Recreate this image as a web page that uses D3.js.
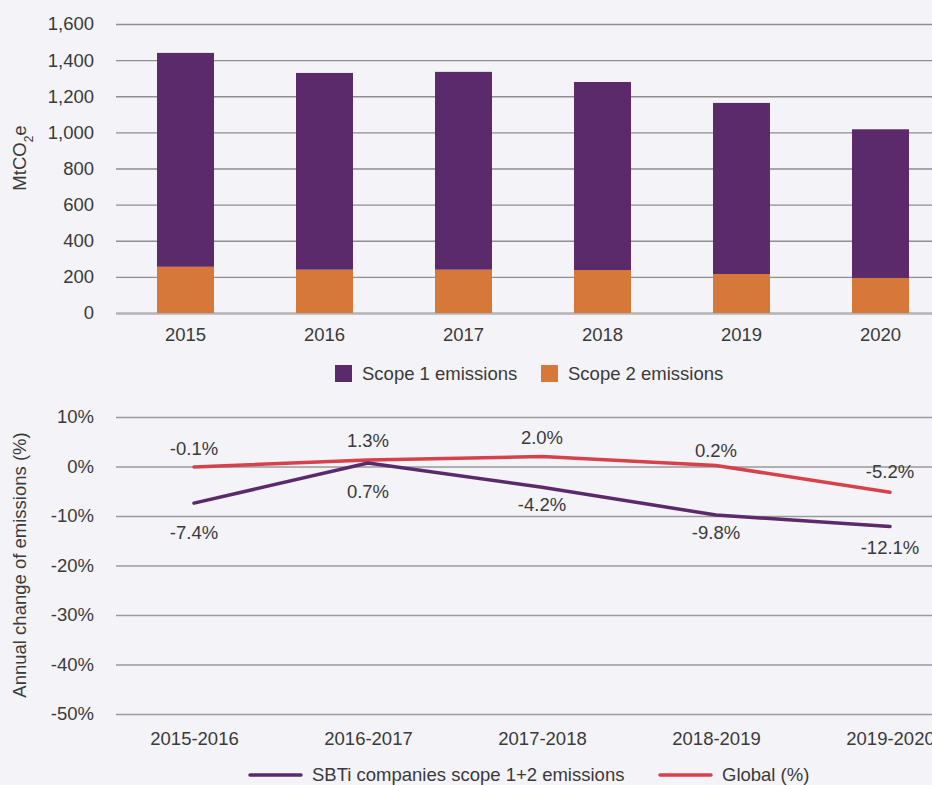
<!DOCTYPE html>
<html>
<head>
<meta charset="utf-8">
<script src="https://cdn.jsdelivr.net/npm/d3@7"></script>
<style>
  html, body { margin: 0; padding: 0; background: #f4f3f7; }
  svg { display: block; font-family: "Liberation Sans", Arial, sans-serif; }
  .tick text { fill: #3a3a3a; font-size: 18.5px; }
  .domain { display: none; }
</style>
</head>
<body>
<div id="chart"></div>
<script>
// Top chart data (MtCO2e)
const years = ["2015", "2016", "2017", "2018", "2019", "2020"];
const scope1 = [1184, 1089, 1095, 1041, 947, 823];
const scope2 = [256, 240, 240, 238, 216, 194];
const emissionTicks = [0, 200, 400, 600, 800, 1000, 1200, 1400, 1600];

// Bottom chart data (annual change, %)
const periods = ["2015-2016", "2016-2017", "2017-2018", "2018-2019", "2019-2020"];
const sbtiChange = [-7.4, 0.7, -4.2, -9.8, -12.1];
const globalChange = [-0.1, 1.3, 2.0, 0.2, -5.2];
const changeTicks = [10, 0, -10, -20, -30, -40, -50];

const purple = "#5b2a6a";
const orange = "#d5783a";
const red = "#d6414b";
const textColor = "#3a3a3a";

const svgWidth = 932, svgHeight = 785;
const svg = d3.select("#chart").append("svg")
    .attr("width", svgWidth)
    .attr("height", svgHeight);

// ---------- top: stacked bars ----------
const plotLeft = 116;
const xBar = d3.scaleBand().domain(years).range([plotLeft, 950])
    .paddingInner(0.59).paddingOuter(0.295);
const yBar = d3.scaleLinear().domain([0, 1600]).range([313, 24]);

const yAxisTop = svg.append("g")
    .attr("transform", `translate(${plotLeft},0)`)
    .call(d3.axisLeft(yBar).tickValues(emissionTicks).tickFormat(d3.format(","))
        .tickSize(-(svgWidth - plotLeft)).tickPadding(22));
yAxisTop.selectAll(".tick line")
    .attr("stroke", d => d === 0 ? "#b3b3b3" : "#8e8e8e")
    .attr("stroke-width", d => d === 0 ? 2.5 : 1.3);

const stackData = years.map((y, i) => ({ year: y, s2: scope2[i], s1: scope1[i] }));
const stack = d3.stack().keys(["s2", "s1"])(stackData);
const barColors = { s1: purple, s2: orange };

svg.append("g").selectAll("g")
    .data(stack)
    .join("g")
    .attr("fill", d => barColors[d.key])
    .selectAll("rect")
    .data(d => d)
    .join("rect")
    .attr("x", d => xBar(d.data.year))
    .attr("y", d => yBar(d[1]))
    .attr("width", xBar.bandwidth())
    .attr("height", d => yBar(d[0]) - yBar(d[1]));

svg.append("g")
    .attr("transform", "translate(0,313)")
    .call(d3.axisBottom(xBar).tickSize(0).tickPadding(14))
    .selectAll("text").attr("dy", "0.75em");

// y title with subscript
const t1 = svg.append("text")
    .attr("transform", "translate(26,158) rotate(-90)")
    .attr("text-anchor", "middle")
    .attr("fill", textColor)
    .style("font-size", "18.5px");
t1.append("tspan").text("MtCO");
t1.append("tspan").text("2").attr("baseline-shift", "sub").style("font-size", "12px");
t1.append("tspan").text("e");

// legend top
const legTop = [
    { label: "Scope 1 emissions", color: purple, x: 335 },
    { label: "Scope 2 emissions", color: orange, x: 541 }
];
const lt = svg.append("g").selectAll("g").data(legTop).join("g")
    .attr("transform", d => `translate(${d.x},365)`);
lt.append("rect").attr("width", 17).attr("height", 17).attr("fill", d => d.color);
lt.append("text").attr("x", 27).attr("y", 8.5).attr("dy", "0.35em")
    .attr("fill", textColor).style("font-size", "18.5px").text(d => d.label);

// ---------- bottom: lines ----------
const xLine = d3.scalePoint().domain(periods).range([194, 890]);
const yLine = d3.scaleLinear().domain([-50, 10]).range([714, 417]);

const yAxisBot = svg.append("g")
    .attr("transform", `translate(${plotLeft},0)`)
    .call(d3.axisLeft(yLine).tickValues(changeTicks).tickFormat(d => d + "%")
        .tickSize(-(svgWidth - plotLeft)).tickPadding(22));
yAxisBot.selectAll(".tick line").attr("stroke", "#9a9a9a").attr("stroke-width", 1.5);

svg.append("g")
    .attr("transform", "translate(0,714)")
    .call(d3.axisBottom(xLine).tickSize(0).tickPadding(17))
    .selectAll("text").attr("dy", "0.75em");

const line = d3.line()
    .x((d, i) => xLine(periods[i]))
    .y(d => yLine(d));

const seriesList = [
    { name: "Global (%)", values: globalChange, color: red, above: true },
    { name: "SBTi companies scope 1+2 emissions", values: sbtiChange, color: purple, above: false }
];

svg.append("g").selectAll("path").data(seriesList).join("path")
    .attr("fill", "none")
    .attr("stroke", d => d.color)
    .attr("stroke-width", 3.5)
    .attr("stroke-linecap", "round")
    .attr("stroke-linejoin", "round")
    .attr("d", d => line(d.values));

// label nudges (px) so labels sit as in the original
const redDy = [-18, -20, -19, -15, -21];
const purpleDy = [29, 28, 17, 18, 21];
const fmt = v => v.toFixed(1) + "%";

seriesList.forEach(s => {
    const dys = s.above ? redDy : purpleDy;
    svg.append("g").selectAll("text").data(s.values).join("text")
        .attr("x", (d, i) => xLine(periods[i]))
        .attr("y", (d, i) => yLine(d) + dys[i])
        .attr("dy", "0.35em")
        .attr("text-anchor", "middle")
        .attr("fill", textColor)
        .style("font-size", "18.5px")
        .text(fmt);
});

svg.append("text")
    .attr("transform", "translate(26,565) rotate(-90)")
    .attr("text-anchor", "middle")
    .attr("fill", textColor)
    .style("font-size", "18.5px")
    .text("Annual change of emissions (%)");

// legend bottom
const legBot = [
    { label: "SBTi companies scope 1+2 emissions", color: purple, x: 250 },
    { label: "Global (%)", color: red, x: 660 }
];
const lb = svg.append("g").selectAll("g").data(legBot).join("g")
    .attr("transform", d => `translate(${d.x},775)`);
lb.append("line").attr("x1", 0).attr("x2", 51).attr("stroke", d => d.color)
    .attr("stroke-width", 3.5).attr("stroke-linecap", "round");
lb.append("text").attr("x", 62).attr("dy", "0.35em")
    .attr("fill", textColor).style("font-size", "18.5px").text(d => d.label);
</script>
</body>
</html>
